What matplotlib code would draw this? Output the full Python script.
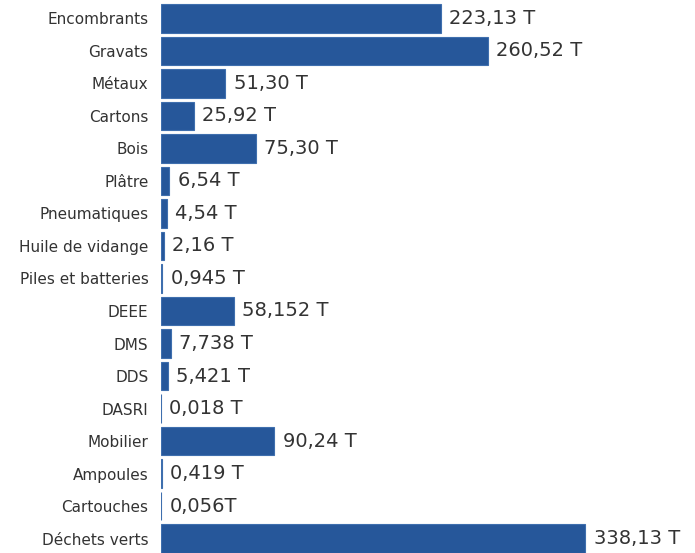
import matplotlib
matplotlib.use("Agg")
import matplotlib.pyplot as plt

categories = ["Encombrants", "Gravats", "Métaux", "Cartons", "Bois", "Plâtre",
              "Pneumatiques", "Huile de vidange", "Piles et batteries", "DEEE",
              "DMS", "DDS", "DASRI", "Mobilier", "Ampoules", "Cartouches",
              "Déchets verts"]
values = [223.13, 260.52, 51.30, 25.92, 75.30, 6.54, 4.54, 2.16, 0.945, 58.152,
          7.738, 5.421, 0.018, 90.24, 0.419, 0.056, 338.13]
value_labels = ["223,13 T", "260,52 T", "51,30 T", "25,92 T", "75,30 T", "6,54 T",
                "4,54 T", "2,16 T", "0,945 T", "58,152 T", "7,738 T", "5,421 T",
                "0,018 T", "90,24 T", "0,419 T", "0,056T", "338,13 T"]

plt.rcParams['font.family'] = ['DejaVu Sans']
bar_color = "#26579A"
text_color = "#333333"

fig = plt.figure(figsize=(6.95, 5.53), dpi=100)
ax = fig.add_axes([161/695, 0, 1 - 161/695 - 0.005, 1])
pos = list(range(len(categories)))
ax.barh(pos, values, height=0.88, color=bar_color, edgecolor="#3F6FAE", linewidth=0.8)

for p, v, lab in zip(pos, values, value_labels):
    ax.annotate(lab, xy=(v, p), xytext=(6, 0), textcoords="offset points",
                ha="left", va="center", fontsize=14, color=text_color)

ax.set_yticks(pos)
ax.set_yticklabels(categories, fontsize=11, color=text_color)
ax.tick_params(axis='y', length=0, pad=9)
ax.set_xticks([])
ax.set_xlim(0, (695 - 161 - 3.5) / 1.255)
ax.set_ylim(16.446, -0.569)
for s in ax.spines.values():
    s.set_visible(False)

fig.savefig("out.png", dpi=100)
